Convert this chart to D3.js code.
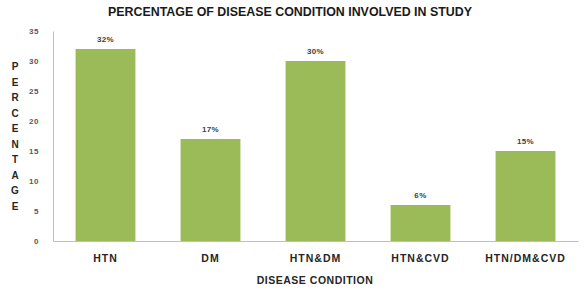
<!DOCTYPE html>
<html><head><meta charset="utf-8">
<script src="https://cdn.jsdelivr.net/npm/d3@7"></script>
<style>body{margin:0;background:#fff}svg{display:block}text{font-family:"Liberation Sans",Arial,sans-serif}</style>
</head><body>
<svg id="c" width="586" height="291"></svg>
<script>
const categories = ["HTN","DM","HTN&DM","HTN&CVD","HTN/DM&CVD"];
const values = [32,17,30,6,15];
const valueLabels = ["32%","17%","30%","6%","15%"];
const yTicks = [0,5,10,15,20,25,30,35];
const title = "PERCENTAGE OF DISEASE CONDITION INVOLVED IN STUDY";
const xTitle = "DISEASE CONDITION";
const yTitle = "PERCENTAGE";

const svg = d3.select("#c");
const x = d3.scaleBand().domain(categories).range([53,578]).paddingInner(0.43).paddingOuter(0.215);
const y = d3.scaleLinear().domain([0,35]).range([241,31]);

svg.append("text").attr("x",290).attr("y",16).attr("text-anchor","middle")
  .attr("font-size",12.5).attr("font-weight","bold").attr("fill","#1a1a1a")
  .attr("textLength",364).attr("lengthAdjust","spacingAndGlyphs").text(title);

const ya = svg.append("g").attr("transform","translate(53,0)")
  .call(d3.axisLeft(y).tickValues(yTicks).tickSize(0).tickPadding(14));
ya.select(".domain").attr("stroke","#bfbfbf");
ya.selectAll("text").attr("font-size",8).attr("font-weight","bold").attr("fill","#595959")
  .attr("letter-spacing",0.5)
  .attr("font-family","Liberation Sans,Arial,sans-serif");

svg.selectAll("rect.bar").data(values).join("rect").attr("class","bar")
  .attr("x",(d,i)=>x(categories[i])).attr("width",x.bandwidth())
  .attr("y",d=>y(d)).attr("height",d=>y(0)-y(d)).attr("fill","#9BBB59");

const xa = svg.append("g").attr("transform","translate(0,241)")
  .call(d3.axisBottom(x).tickSize(0).tickPadding(14));
xa.select(".domain").attr("stroke","#bfbfbf");
xa.selectAll("text").attr("font-size",10.5).attr("font-weight","bold").attr("fill","#262626")
  .attr("letter-spacing",1)
  .attr("font-family","Liberation Sans,Arial,sans-serif");

svg.selectAll("text.vl").data(values).join("text").attr("class","vl")
  .attr("x",(d,i)=>x(categories[i])+x.bandwidth()/2).attr("y",d=>y(d)-7)
  .attr("text-anchor","middle").attr("font-size",8).attr("font-weight","bold").attr("fill","#404040")
  .attr("letter-spacing",0.4)
  .text((d,i)=>valueLabels[i]);

svg.append("text").attr("x",315).attr("y",284).attr("text-anchor","middle")
  .attr("font-size",10.5).attr("font-weight","bold").attr("fill","#262626")
  .attr("letter-spacing",0.5).text(xTitle);

svg.selectAll("text.yt").data(yTitle.split("")).join("text").attr("class","yt")
  .attr("x",15).attr("y",(d,i)=>70+i*15.5).attr("text-anchor","middle")
  .attr("font-size",10).attr("font-weight","bold").attr("fill","#262626").text(d=>d);
</script>
</body></html>
